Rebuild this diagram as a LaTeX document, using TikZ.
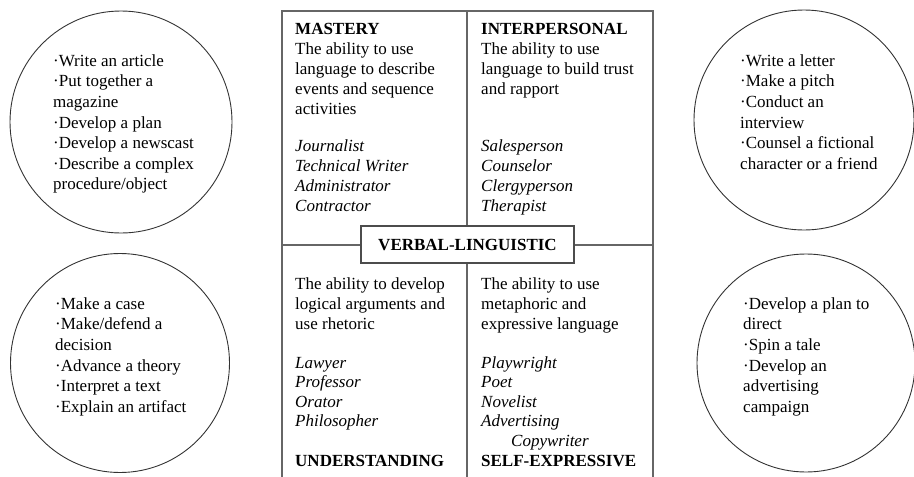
\documentclass[tikz,border=0pt]{standalone}
\usepackage{fontspec}
\setmainfont{Liberation Serif}
\begin{document}
\begin{tikzpicture}[x=1pt,y=-1pt,
  bubble/.style={draw=black!80, line width=0.9pt, circle, inner sep=0, fill=none},
  frame/.style={draw=black!60, line width=1.1pt},
  txt/.style={inner sep=0, anchor=north west, align=left, font=\fontsize{17}{20.6}\selectfont},
  desc/.style={inner sep=0, anchor=north west, align=left, font=\fontsize{17}{20}\selectfont},
  jobs/.style={inner sep=0, anchor=north west, align=left, font=\fontsize{17}{20}\selectfont\itshape},
  jobsb/.style={inner sep=0, anchor=north west, align=left, font=\fontsize{17}{19.5}\selectfont\itshape},
  ttl/.style={inner sep=0, anchor=base west, font=\fontsize{17}{20}\selectfont\bfseries},
  centre/.style={draw=black!70, line width=1.1pt, fill=white, minimum width=213pt, minimum height=37pt, inner sep=0, font=\fontsize{17}{20}\selectfont\bfseries}
]
\useasboundingbox (0,0) rectangle (914,477);

% circles
\node[bubble, minimum size=222pt] (clt) at (121,122) {};
\node[bubble, minimum size=219pt] (clb) at (120,363) {};
\node[bubble, minimum size=220pt] (crt) at (804,120) {};
\node[bubble, minimum size=218pt] (crb) at (806,363) {};

% circle texts
\node[txt] (tlt) at (53,50) {\rule{0pt}{16pt}·Write an article\\·Put together a\\magazine\\·Develop a plan\\·Develop a newscast\\·Describe a complex\\procedure/object};
\node[txt] (tlb) at (55,293) {\rule{0pt}{16pt}·Make a case\\·Make/defend a\\decision\\·Advance a theory\\·Interpret a text\\·Explain an artifact};
\node[txt] (trt) at (740,50) {\rule{0pt}{16pt}·Write a letter\\·Make a pitch\\·Conduct an\\interview\\·Counsel a fictional\\character or a friend};
\node[txt] (trb) at (743,293) {\rule{0pt}{16pt}·Develop a plan to\\direct\\·Spin a tale\\·Develop an\\advertising\\campaign};

% central frame
\draw[frame] (282,480) -- (282,11) -- (653,11) -- (653,480);
\draw[frame] (467,11) -- (467,480);
\draw[frame] (282,245) -- (653,245);

% quadrant texts
\node[desc] (dtl) at (295,18) {\rule{0pt}{16pt}\textbf{MASTERY}\\The ability to use\\language to describe\\events and sequence\\activities};
\node[jobs] (jtl) at (295,135) {\rule{0pt}{16pt}Journalist\\Technical Writer\\Administrator\\Contractor};
\node[desc] (dtr) at (481,18) {\rule{0pt}{16pt}\textbf{INTERPERSONAL}\\The ability to use\\language to build trust\\and rapport};
\node[jobs] (jtr) at (481,135) {\rule{0pt}{16pt}Salesperson\\Counselor\\Clergyperson\\Therapist};
\node[desc] (dbl) at (295,273) {\rule{0pt}{16pt}The ability to develop\\logical arguments and\\use rhetoric};
\node[jobsb] (jbl) at (295,352) {\rule{0pt}{16pt}Lawyer\\Professor\\Orator\\Philosopher};
\node[ttl] (tbl) at (295,466) {UNDERSTANDING};
\node[desc] (dbr) at (481,273) {\rule{0pt}{16pt}The ability to use\\metaphoric and\\expressive language};
\node[jobsb] (jbr) at (481,352) {\rule{0pt}{16pt}Playwright\\Poet\\Novelist\\Advertising\\\hspace{30pt}Copywriter};
\node[ttl] (tbr) at (481,466) {SELF-EXPRESSIVE};

% centre label
\node[centre] (vl) at (467.5,244.5) {VERBAL-LINGUISTIC};
\end{tikzpicture}
\end{document}
